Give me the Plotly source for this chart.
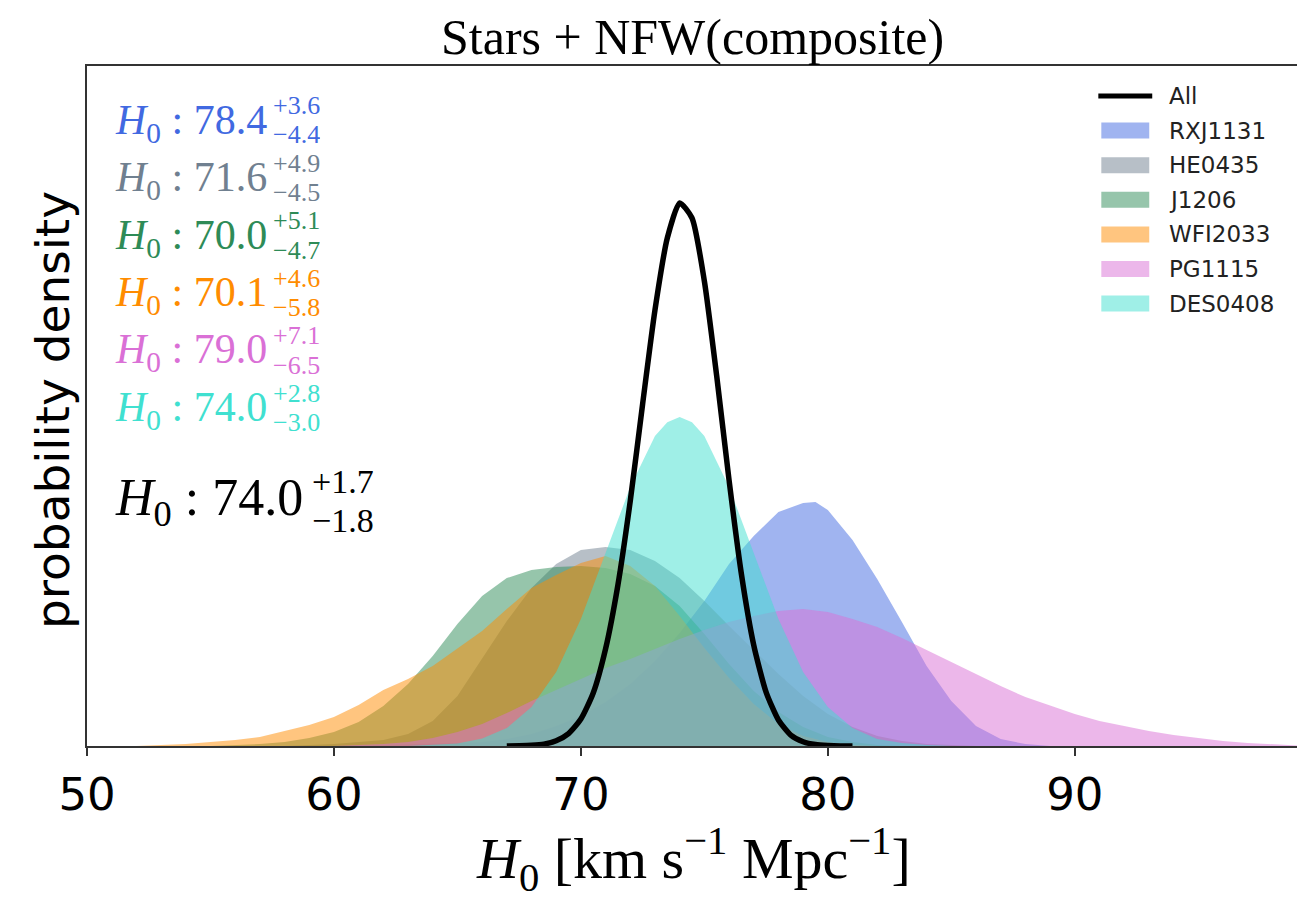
import plotly.graph_objects as go

# ---------------- data ----------------
names = ["RXJ1131", "HE0435", "J1206", "WFI2033", "PG1115", "DES0408"]
colors = ["#4169E1", "#708090", "#2E8B57", "#FF8C00", "#DA70D6", "#40E0D0"]
medians = ["78.4", "71.6", "70.0", "70.1", "79.0", "74.0"]
err_up = ["+3.6", "+4.9", "+5.1", "+4.6", "+7.1", "+2.8"]
err_dn = ["\u22124.4", "\u22124.5", "\u22124.7", "\u22125.8", "\u22126.5", "\u22123.0"]
all_median, all_up, all_dn = "74.0", "+1.7", "\u22121.8"

rxj_x = [60, 61, 62, 63, 64, 65, 66, 67, 68, 69, 70, 71, 72, 73, 74, 75, 76, 77, 78, 79, 79.5,
         80, 81, 82, 83, 84, 85, 86, 87, 88, 89]
rxj_y = [0, 0.0002, 0.0004, 0.0006, 0.0008, 0.0013, 0.0017, 0.0029, 0.0050, 0.0084, 0.0126,
         0.0184, 0.0260, 0.0356, 0.0474, 0.0608, 0.0763, 0.0880, 0.0981, 0.1018, 0.1023,
         0.0989, 0.0863, 0.0700, 0.0520, 0.0335, 0.0189, 0.0084, 0.0029, 0.0008, 0]

he_x = list(range(58, 87))
he_y = [0, 0.0004, 0.0008, 0.0017, 0.0025, 0.0050, 0.0105, 0.0210, 0.0369, 0.0524, 0.0662,
        0.0763, 0.0821, 0.0834, 0.0821, 0.0775, 0.0704, 0.0608, 0.0503, 0.0402, 0.0302,
        0.0210, 0.0134, 0.0080, 0.0042, 0.0021, 0.0008, 0.0004, 0]

j_x = list(range(55, 84))
j_y = [0, 0.0004, 0.0008, 0.0017, 0.0034, 0.0059, 0.0101, 0.0168, 0.0260, 0.0377, 0.0511,
       0.0629, 0.0704, 0.0738, 0.0750, 0.0754, 0.0746, 0.0721, 0.0671, 0.0587, 0.0469,
       0.0344, 0.0231, 0.0143, 0.0080, 0.0038, 0.0017, 0.0004, 0]

wfi_x = list(range(52, 83))
wfi_y = [0, 0.0004, 0.0008, 0.0017, 0.0025, 0.0038, 0.0063, 0.0088, 0.0122, 0.0172, 0.0235,
         0.0281, 0.0335, 0.0407, 0.0482, 0.0574, 0.0662, 0.0717, 0.0767, 0.0796, 0.0754,
         0.0671, 0.0545, 0.0411, 0.0285, 0.0176, 0.0092, 0.0042, 0.0017, 0.0004, 0]

pg_x = list(range(60, 100))
pg_y = [0, 0.0004, 0.0008, 0.0017, 0.0034, 0.0059, 0.0092, 0.0138, 0.0189, 0.0235, 0.0281,
        0.0327, 0.0365, 0.0407, 0.0448, 0.0486, 0.0520, 0.0545, 0.0566, 0.0574, 0.0562,
        0.0532, 0.0499, 0.0453, 0.0402, 0.0352, 0.0302, 0.0251, 0.0205, 0.0168, 0.0134,
        0.0105, 0.0084, 0.0063, 0.0046, 0.0034, 0.0021, 0.0013, 0.0006, 0.0002]

des_x = [63, 64, 65, 66, 67, 68, 69, 70, 71, 72, 73, 73.5, 74, 74.5, 75, 76, 77, 78, 79, 80,
         81, 82, 83, 84, 85]
des_y = [0, 0.0004, 0.0011, 0.0031, 0.0075, 0.0163, 0.0310, 0.0532, 0.0809, 0.1086, 0.1299,
         0.1357, 0.1379, 0.1357, 0.1299, 0.1086, 0.0809, 0.0532, 0.0310, 0.0163, 0.0075,
         0.0029, 0.0013, 0.0004, 0]

all_x = [67.0, 67.5, 68.0, 68.5, 69.0, 69.5, 70.0, 70.5, 71.0, 71.5, 72.0, 72.5, 73.0, 73.5,
         74.0, 74.5, 75.0, 75.5, 76.0, 76.5, 77.0, 77.5, 78.0, 78.5, 79.0, 79.5, 80.0, 80.5, 81.0]
all_y = [0.0000, 0.0001, 0.0003, 0.0008, 0.0022, 0.0052, 0.0113, 0.0222, 0.0407, 0.0675,
         0.1027, 0.1433, 0.1827, 0.2129, 0.2276, 0.2213, 0.1949, 0.1551, 0.1115, 0.0721,
         0.0423, 0.0226, 0.0109, 0.0046, 0.0018, 0.0006, 0.0002, 0.0000, 0.0000]

series_x = [rxj_x, he_x, j_x, wfi_x, pg_x, des_x]
series_y = [rxj_y, he_y, j_y, wfi_y, pg_y, des_y]

x_range = [50, 99]
y_range = [0, 0.285]
x_ticks = [50, 60, 70, 80, 90]

# ---------------- layout helpers ----------------
OFF = 8                      # page body margin of the html page
W, H = 1305 - OFF, 901 - OFF
L, R, T, B = 87, 1299, 66, 746   # plot area in screen pixels


def px(xp):
    return (xp - L) / (R - L)


def py(yp):
    return (B - yp) / (B - T)


def rgba(hexc, a):
    h = hexc.lstrip("#")
    return "rgba(%d,%d,%d,%s)" % (int(h[0:2], 16), int(h[2:4], 16), int(h[4:6], 16), a)


SERIF = "Liberation Serif, Times New Roman, serif"
SANS = "DejaVu Sans, sans-serif"

fig = go.Figure()
for nm, c, xs, ys in zip(names, colors, series_x, series_y):
    fig.add_trace(go.Scatter(x=xs, y=ys, name=nm, mode="lines", fill="tozeroy",
                             fillcolor=rgba(c, 0.5), line=dict(width=0, color=rgba(c, 0.5)),
                             showlegend=False))
fig.add_trace(go.Scatter(x=all_x, y=all_y, name="All", mode="lines",
                         line=dict(color="black", width=5.5, shape="spline", smoothing=0.6),
                         showlegend=False))

ann = []
shapes = []

# title
ann.append(dict(text="Stars + NFW(composite)", x=0.5, y=py(37), xref="paper", yref="paper",
                xanchor="center", yanchor="middle", showarrow=False,
                font=dict(family=SERIF, size=50, color="black")))
# x title
ann.append(dict(text="<i>H</i><sub>0</sub> [km s<sup>\u22121</sup> Mpc<sup>\u22121</sup>]",
                x=px(695), y=py(859), xref="paper", yref="paper", xanchor="center",
                yanchor="middle", showarrow=False, font=dict(family=SERIF, size=58, color="black")))
# y title
ann.append(dict(text="probability density", x=px(52), y=py(410), xref="paper", yref="paper",
                xanchor="center", yanchor="middle", textangle=-90, showarrow=False,
                font=dict(family=SANS, size=47, color="black")))

# H0 labels per lens (median plus stacked upper / lower errors)
for i, (c, m, u, d) in enumerate(zip(colors, medians, err_up, err_dn)):
    yc = 119.5 + 57.5 * i
    ann.append(dict(text="<i>H</i><sub>0</sub> : " + m, x=px(113), y=py(yc + 3), xref="paper",
                    yref="paper", xanchor="left", yanchor="middle", showarrow=False,
                    font=dict(family=SERIF, size=42, color=c)))
    ann.append(dict(text=u, x=px(271), y=py(yc - 14.5), xref="paper", yref="paper",
                    xanchor="left", yanchor="middle", showarrow=False, height=26,
                    font=dict(family=SERIF, size=26, color=c)))
    ann.append(dict(text=d, x=px(271), y=py(yc + 15), xref="paper", yref="paper",
                    xanchor="left", yanchor="middle", showarrow=False, height=26,
                    font=dict(family=SERIF, size=26, color=c)))
# combined label
ann.append(dict(text="<i>H</i><sub>0</sub> : " + all_median, x=px(113), y=py(502),
                xref="paper", yref="paper", xanchor="left", yanchor="middle", showarrow=False,
                font=dict(family=SERIF, size=52, color="black")))
ann.append(dict(text=all_up, x=px(310), y=py(481), xref="paper", yref="paper",
                xanchor="left", yanchor="middle", showarrow=False, height=34,
                font=dict(family=SERIF, size=34, color="black")))
ann.append(dict(text=all_dn, x=px(310), y=py(520), xref="paper", yref="paper",
                xanchor="left", yanchor="middle", showarrow=False, height=34,
                font=dict(family=SERIF, size=34, color="black")))

# custom legend
leg_y0, leg_dy = 96, 34.6
shapes.append(dict(type="line", xref="paper", yref="paper", x0=px(1100), x1=px(1154),
                   y0=py(leg_y0), y1=py(leg_y0), line=dict(color="black", width=5)))
ann.append(dict(text="All", x=px(1169), y=py(leg_y0), xref="paper", yref="paper",
                xanchor="left", yanchor="middle", showarrow=False,
                font=dict(family=SANS, size=23, color="#222")))
for i, (nm, c) in enumerate(zip(names, colors)):
    yc = leg_y0 + leg_dy * (i + 1)
    shapes.append(dict(type="rect", xref="paper", yref="paper", x0=px(1103), x1=px(1151),
                       y0=py(yc - 8), y1=py(yc + 8), fillcolor=rgba(c, 0.5), line=dict(width=0)))
    ann.append(dict(text=nm, x=px(1169), y=py(yc), xref="paper", yref="paper",
                    xanchor="left", yanchor="middle", showarrow=False,
                    font=dict(family=SANS, size=23, color="#222")))

fig.update_layout(
    width=W, height=H,
    margin=dict(l=L - OFF, r=(W + OFF) - R, t=T - OFF, b=(H + OFF) - B, pad=0),
    plot_bgcolor="white", paper_bgcolor="white",
    annotations=ann, shapes=shapes, showlegend=False,
)
fig.update_xaxes(range=x_range, tickvals=x_ticks, ticks="outside", ticklen=8, tickwidth=1.5,
                 tickcolor="#333", showline=True, linecolor="#333", linewidth=1.5, mirror=True,
                 showgrid=False, zeroline=False,
                 tickfont=dict(family=SANS, size=45, color="black"))
fig.update_yaxes(range=y_range, showticklabels=False, ticks="", showline=True,
                 linecolor="#333", linewidth=1.5, mirror=True, showgrid=False, zeroline=False)

fig.write_html("out.html")
